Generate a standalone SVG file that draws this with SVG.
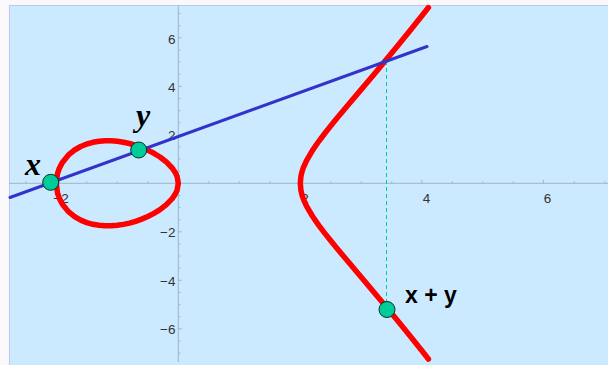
<svg xmlns="http://www.w3.org/2000/svg" width="608" height="365" viewBox="0 0 608 365">
<style>
.axis{stroke:#9fb4c9;stroke-width:1;fill:none}
.tick{font-family:"Liberation Sans",Arial,sans-serif;font-size:13.5px;fill:#333}
.curve{stroke:#ff0000;stroke-width:5.5;fill:none;stroke-linejoin:round;stroke-linecap:round}
.line{stroke:#3333cc;stroke-width:3;fill:none;stroke-linecap:round}
.dash{stroke:#00cc99;stroke-width:1;stroke-dasharray:4 3;fill:none}
.pt{fill:#00cc99;stroke:#003322;stroke-width:1}
.lbl{font-family:"Liberation Serif","Times New Roman",serif;font-weight:bold;font-style:italic;font-size:32px;fill:#000}
.lbl2{font-family:"Liberation Sans",Arial,sans-serif;font-weight:bold;font-size:23px;fill:#000}
</style>
<rect x="0" y="0" width="608" height="365" fill="#f9f9fb"/>
<rect x="9.5" y="5.5" width="600" height="362" fill="#cceaff" stroke="#c4c4f4" stroke-width="1"/>
<g id="axes">
<path class="axis" d="M9 183.3H608M178.3 5V362"/>
<path class="axis" d="M25.8 183.3v-2M56.3 183.3v-3.5M86.8 183.3v-2M117.3 183.3v-2M147.8 183.3v-2M208.8 183.3v-2M239.3 183.3v-2M269.8 183.3v-2M300.3 183.3v-3.5M330.8 183.3v-2M361.3 183.3v-2M391.8 183.3v-2M421.8 183.3v-3.5M452.3 183.3v-2M482.8 183.3v-2M513.3 183.3v-2M543.3 183.3v-3.5M574.3 183.3v-2M604.8 183.3v-2"/>
<path class="axis" d="M178.3 13.55h2M178.3 25.68h2M178.3 37.8h3.5M178.3 49.93h2M178.3 62.05h2M178.3 74.18h2M178.3 86.3h3.5M178.3 98.43h2M178.3 110.55h2M178.3 122.68h2M178.3 134.8h3.5M178.3 146.93h2M178.3 159.05h2M178.3 171.18h2M178.3 195.43h2M178.3 207.55h2M178.3 219.68h2M178.3 231.8h3.5M178.3 243.93h2M178.3 256.05h2M178.3 268.18h2M178.3 280.3h3.5M178.3 292.43h2M178.3 304.55h2M178.3 316.68h2M178.3 328.8h3.5M178.3 340.93h2M178.3 353.05h2"/>
<g class="tick" text-anchor="middle">
<text x="61" y="203">−2</text>
<text x="305" y="203">2</text>
<text x="426.5" y="203">4</text>
<text x="547.5" y="203">6</text>
</g>
<g class="tick" text-anchor="end">
<text x="175.5" y="43.5">6</text>
<text x="175.5" y="92">4</text>
<text x="175.5" y="140">2</text>
<text x="175.5" y="237">−2</text>
<text x="175.5" y="285.5">−4</text>
<text x="175.5" y="334">−6</text>
</g>
</g>
<g id="curve">
<path class="curve" d="M56.3 183.3L57.5 173.7L59.35 168.2L62.4 162.4L68.5 154.9L74.6 150L80.7 146.5L86.8 144L92.9 142.3L99 141.3L105.1 140.8L111.2 140.8L117.3 141.3L123.4 142.2L129.5 143.5L135.6 145.3L141.7 147.5L147.8 150.1L153.9 153.3L160 157L166.1 161.7L172.2 168L175.25 172.5L177.1 176.4L178.3 183.3L177.1 190.2L175.25 194.1L172.2 198.6L166.1 204.9L160 209.6L153.9 213.4L147.8 216.5L141.7 219.1L135.6 221.3L129.5 223.1L123.4 224.4L117.3 225.3L111.2 225.8L105.1 225.8L99 225.3L92.9 224.3L86.8 222.6L80.7 220.1L74.6 216.6L68.5 211.7L62.4 204.2L59.35 198.4L57.5 193Z"/>
<path class="curve" d="M428.4 7.56L422.3 15.3L410.1 30.55L397.9 45.58L385.7 60.35L373.5 74.93L361.3 89.38L349.1 103.78L336.9 118.33L330.8 125.78L324.7 133.47L318.6 141.54L312.5 150.34L306.4 160.8L303.35 167.68L302.1 171.3L300.9 176.41L300.3 183.3L300.9 190.19L302.1 195.3L303.35 198.92L306.4 205.8L312.5 216.26L318.6 225.06L324.7 233.13L330.8 240.82L336.9 248.27L349.1 262.82L361.3 277.22L373.5 291.67L385.7 306.25L397.9 321.02L410.1 336.05L422.3 351.3L428.4 359.04"/>
</g>
<g id="connectors">
<path class="dash" d="M386.5 61V302"/>
<path class="line" d="M10 197.5L427 46.5"/>
</g>
<g id="node-x">
<circle class="pt" cx="50.7" cy="182.3" r="8"/>
<text class="lbl" x="25" y="175">x</text>
</g>
<g id="node-y">
<circle class="pt" cx="138.7" cy="150" r="8"/>
<text class="lbl" x="136" y="126">y</text>
</g>
<g id="node-xy">
<circle class="pt" cx="387" cy="309.5" r="8"/>
<text class="lbl2" x="405" y="303">x + y</text>
</g>
</svg>
